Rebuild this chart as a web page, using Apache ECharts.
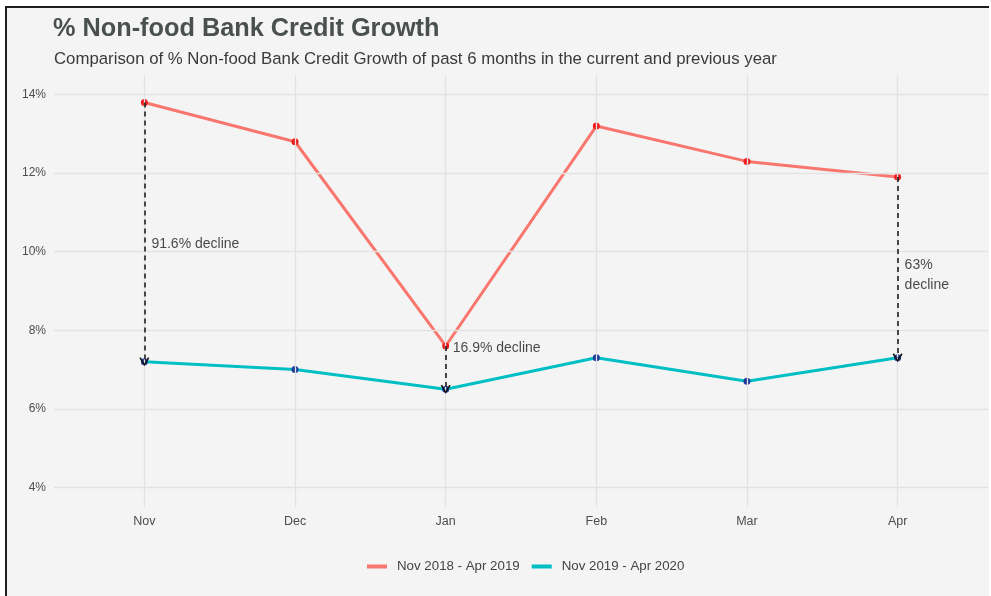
<!DOCTYPE html>
<html>
<head>
<meta charset="utf-8">
<script src="https://cdn.jsdelivr.net/npm/echarts@6/dist/echarts.min.js"></script>
<style>
html,body{margin:0;padding:0;background:#ffffff;width:991px;height:596px;overflow:hidden;}
#bg{position:absolute;left:5px;top:6px;width:982px;height:590px;background:#f4f4f4;border-left:2px solid #1e1e1e;border-top:2px solid #1e1e1e;}
#chart{position:absolute;left:0;top:0;width:991px;height:596px;}
</style>
</head>
<body>
<div id="bg"></div>
<div id="chart"></div>
<script>
// ---- data ----
const months = ['Nov', 'Dec', 'Jan', 'Feb', 'Mar', 'Apr'];
const prevYear = [13.8, 12.8, 7.6, 13.2, 12.3, 11.9];   // Nov 2018 - Apr 2019
const currYear = [7.2, 7.0, 6.5, 7.3, 6.7, 7.3];        // Nov 2019 - Apr 2020
const seriesNames = ['Nov 2018 - Apr 2019', 'Nov 2019 - Apr 2020'];
const yTicks = [4, 6, 8, 10, 12, 14];
// annotations (arrow from previous to current year)
const annIdx = [0, 2, 5];
const annLabelY = [10.2, 7.55, 9.4];
const annText = ['91.6% decline', '16.9% decline', '63%\ndecline'];

// ---- layout ----
const W = 991, H = 596;
const panel = {left: 54, right: 3, top: 75, bottom: 89};
const xExp = 0.6, yMin = 3.5, yMax = 14.5;
const panelW = W - panel.left - panel.right;
const panelH = H - panel.top - panel.bottom;
const span = (months.length - 1) + 2 * xExp;
const gA = {
  left: panel.left + panelW * xExp / span,
  right: panel.right + panelW * xExp / span,
  top: panel.top + panelH * (yMax - yTicks[yTicks.length - 1]) / (yMax - yMin),
  bottom: panel.bottom + panelH * (yTicks[0] - yMin) / (yMax - yMin)
};

const redLine = '#F8766D', tealLine = '#00BFC4';
const redPt = '#ee1c1c', bluePt = '#1f3a99';
const font = '"Liberation Sans", Arial, Helvetica, sans-serif';
const chevron = 'path://M5,0 L10,9 L8.6,10 L5,3 L1.4,10 L0,9 Z';

const chart = echarts.init(document.getElementById('chart'), null, {renderer: 'canvas'});

const gridMarks = months.map((m, i) => ({xAxis: i})).concat(yTicks.map(v => ({yAxis: v})));

chart.setOption({
  backgroundColor: 'transparent',
  animation: false,
  textStyle: {fontFamily: font},
  title: [
    {text: '% Non-food Bank Credit Growth', left: 53, top: 17, padding: 0,
     textStyle: {fontSize: 25.3, fontWeight: 'bold', color: '#4a504e', fontFamily: font}},
    {text: 'Comparison of % Non-food Bank Credit Growth of past 6 months in the current and previous year',
     left: 54, top: 51, padding: 0, textStyle: {fontSize: 16.8, fontWeight: 'normal', color: '#3a3a3a', fontFamily: font}}
  ],
  legend: {
    left: 362, top: 555, itemWidth: 20, itemHeight: 4, itemGap: 12, icon: 'rect',
    data: [
      {name: seriesNames[0], itemStyle: {color: redLine}},
      {name: seriesNames[1], itemStyle: {color: tealLine}}
    ],
    textStyle: {fontSize: 13.3, color: '#444', fontFamily: font, padding: [0, 0, 0, 5]}
  },
  grid: [
    {left: gA.left, right: gA.right, top: gA.top, bottom: gA.bottom},
    {left: panel.left, right: panel.right, top: panel.top, bottom: panel.bottom}
  ],
  xAxis: [
    {type: 'category', gridIndex: 0, data: months, boundaryGap: false,
     axisLine: {show: false}, axisTick: {show: false}, splitLine: {show: false},
     axisLabel: {color: '#4d4d4d', fontSize: 12.5, margin: 28, fontFamily: font}},
    {type: 'value', gridIndex: 1, min: -xExp, max: months.length - 1 + xExp, show: false}
  ],
  yAxis: [
    {type: 'value', gridIndex: 0, min: yTicks[0], max: yTicks[yTicks.length - 1], interval: 2,
     axisLine: {show: false}, axisTick: {show: false}, splitLine: {show: false},
     axisLabel: {formatter: '{value}%', color: '#4d4d4d', fontSize: 12, margin: gA.left - 46, fontFamily: font}},
    {type: 'value', gridIndex: 1, min: yMin, max: yMax, show: false}
  ],
  series: [
    {
      type: 'line', xAxisIndex: 1, yAxisIndex: 1, data: [], silent: true, z: 0,
      markLine: {
        silent: true, symbol: ['none', 'none'], label: {show: false},
        lineStyle: {color: '#e2e2e2', width: 1.3, type: 'solid'},
        data: gridMarks
      }
    },
    {
      name: seriesNames[0], type: 'line', xAxisIndex: 0, yAxisIndex: 0, data: prevYear,
      symbol: 'circle', symbolSize: 7, showSymbol: true,
      lineStyle: {color: redLine, width: 3}, itemStyle: {color: redPt, borderWidth: 0}, color: redLine, z: 3,
      markLine: {
        silent: true, symbol: ['none', chevron], symbolSize: [10, 9],
        label: {show: false},
        lineStyle: {color: '#111', width: 1.5, type: [5, 4]},
        data: annIdx.map(i => [{coord: [i, prevYear[i]]}, {coord: [i, currYear[i]]}])
      }
    },
    {
      name: seriesNames[1], type: 'line', xAxisIndex: 0, yAxisIndex: 0, data: currYear,
      symbol: 'circle', symbolSize: 7, showSymbol: true,
      lineStyle: {color: tealLine, width: 3}, itemStyle: {color: bluePt, borderWidth: 0}, color: tealLine, z: 3
    },
    {
      type: 'scatter', xAxisIndex: 0, yAxisIndex: 0, symbolSize: 0, silent: true,
      data: annIdx.map((i, k) => ({value: [i, annLabelY[k]], label: {formatter: annText[k]}})),
      label: {show: true, position: 'right', distance: 7, color: '#1a1a1a', fontSize: 14,
              lineHeight: 20, fontFamily: font}
    }
  ]
});
</script>
</body>
</html>
